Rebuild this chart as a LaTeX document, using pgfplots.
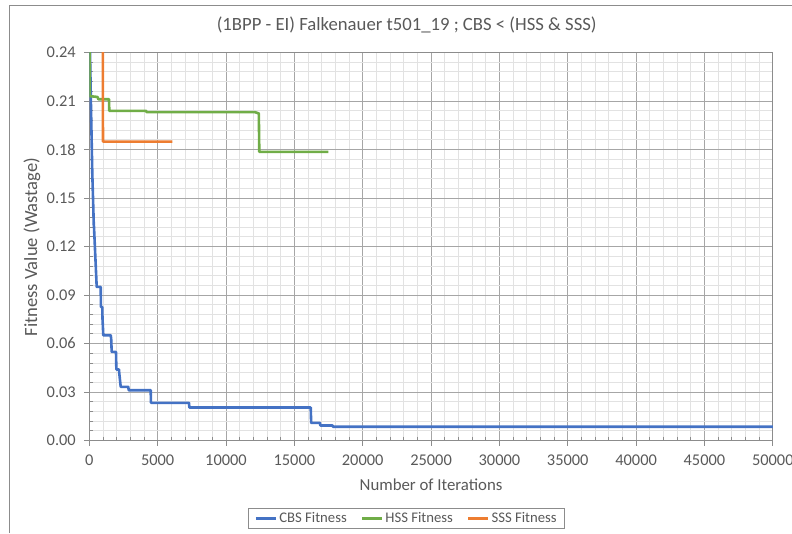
\documentclass[border=0pt]{standalone}
\usepackage{fontspec}
\setmainfont{Carlito}
\usepackage{pgfplots}
\pgfplotsset{compat=1.18}
\usepackage{pgfplotstable}

\definecolor{cbsblue}{HTML}{4472C4}
\definecolor{hssgreen}{HTML}{70AD47}
\definecolor{sssorange}{HTML}{ED7D31}
\definecolor{txtgray}{HTML}{595959}
\definecolor{majgrid}{HTML}{A6A6A6}
\definecolor{mingrid}{HTML}{E2E2E2}
\definecolor{framegray}{HTML}{8C8C8C}

% best-so-far fitness per iteration
\pgfplotstableread{
iter fit
0 0.2600
51 0.2400
124 0.2063
219 0.1652
330 0.1330
344 0.1321
541 0.0950
834 0.0950
850 0.0826
951 0.0826
965 0.0756
1024 0.0651
1565 0.0651
1600 0.0630
1639 0.0548
1953 0.0548
1980 0.0439
2170 0.0439
2195 0.0414
2297 0.0332
2853 0.0332
2880 0.0311
4492 0.0311
4510 0.0233
7293 0.0233
7320 0.0204
16196 0.0204
16230 0.0109
16876 0.0109
16900 0.0093
17800 0.0093
17820 0.0085
50000 0.0085
}\cbsdata

\pgfplotstableread{
iter fit
0 0.2700
45 0.2130
600 0.2125
658 0.2111
1440 0.2111
1463 0.2039
4150 0.2039
4199 0.2031
12121 0.2031
12400 0.2023
12436 0.1785
17484 0.1785
}\hssdata

\pgfplotstableread{
iter fit
0 0.3000
980 0.3000
1000 0.1849
6072 0.1849
}\sssdata

\begin{document}
\begin{tikzpicture}[x=1pt,y=1pt]
\useasboundingbox (0,0) rectangle (792,533);
\draw[framegray, line width=1pt] (9,0) -- (9,527) -- (792,527);
\begin{axis}[
  at={(89.3pt,92.5pt)}, anchor=south west,
  scale only axis, width=683.5pt, height=388pt,
  xmin=0, xmax=50000, ymin=0, ymax=0.24,
  xtick={0,5000,10000,15000,20000,25000,30000,35000,40000,45000,50000},
  ytick={0,0.03,0.06,0.09,0.12,0.15,0.18,0.21,0.24},
  minor x tick num=4, minor y tick num=4,
  scaled x ticks=false, scaled y ticks=false,
  xticklabel style={/pgf/number format/1000 sep={}, yshift=-6pt},
  yticklabel style={/pgf/number format/.cd, fixed, fixed zerofill, precision=2,
    /tikz/xshift=-5pt},
  /pgf/number format/assume math mode=true,
  grid=both,
  major grid style={majgrid, line width=0.8pt},
  minor grid style={mingrid, line width=0.8pt},
  axis line style={framegray, line width=0.8pt},
  tick style={framegray, line width=0.8pt},
  tick pos=left, tick align=outside,
  major tick length=5pt, minor tick length=-4pt,
  ticklabel style={font=\fontsize{16.4}{19}\selectfont, text=txtgray},
  title={(1BPP - EI) Falkenauer t501\_19 ; CBS < (HSS \& SSS)},
  title style={font=\fontsize{18.7}{22}\selectfont, text=txtgray,
    at={(axis description cs:0.4644,1.0418)}, anchor=base, yshift=0pt},
  xlabel={Number of Iterations},
  xlabel style={font=\fontsize{16.8}{19}\selectfont, text=txtgray,
    at={(axis description cs:0.5,-0.1147)}, anchor=center},
  ylabel={Fitness Value (Wastage)},
  ylabel style={font=\fontsize{18.6}{21}\selectfont, text=txtgray,
    at={(axis description cs:-0.0838,0.4987)}, anchor=center, rotate=0},
  legend columns=3,
  legend style={at={(axis description cs:0.4644,-0.2005)}, anchor=center,
    draw=framegray, line width=0.8pt, font=\fontsize{14.7}{17}\selectfont,
    text=txtgray, inner xsep=6pt, inner ysep=2pt,
    /tikz/every even column/.append style={column sep=12pt}},
  legend image code/.code={\draw[#1, line width=2.6pt] (0pt,0pt) -- (20pt,0pt);},
]
\addplot[cbsblue, line width=2.6pt, line join=round] table[x=iter, y=fit]{\cbsdata};
\addlegendentry{CBS Fitness}
\addplot[hssgreen, line width=2.6pt, line join=round] table[x=iter, y=fit]{\hssdata};
\addlegendentry{HSS Fitness}
\addplot[sssorange, line width=2.6pt, line join=round] table[x=iter, y=fit]{\sssdata};
\addlegendentry{SSS Fitness}
\end{axis}
\end{tikzpicture}
\end{document}
